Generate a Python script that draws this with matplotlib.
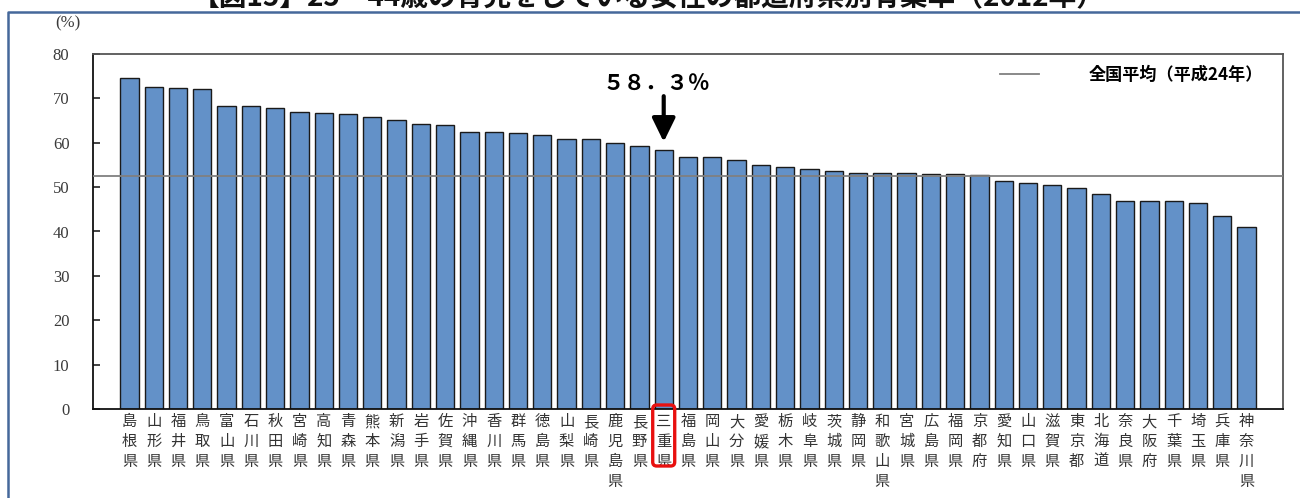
import matplotlib
matplotlib.use("Agg")
import matplotlib.pyplot as plt
from matplotlib.patches import FancyBboxPatch, ArrowStyle
from matplotlib.lines import Line2D
from matplotlib.transforms import IdentityTransform

plt.rcParams['font.family'] = ['Noto Sans CJK JP', 'DejaVu Sans']

# 都道府県別有業率（25～44歳・育児をしている女性、2012年）
prefectures = [
    "島根県", "山形県", "福井県", "鳥取県", "富山県", "石川県", "秋田県", "宮崎県",
    "高知県", "青森県", "熊本県", "新潟県", "岩手県", "佐賀県", "沖縄県", "香川県",
    "群馬県", "徳島県", "山梨県", "長崎県", "鹿児島県", "長野県", "三重県", "福島県",
    "岡山県", "大分県", "愛媛県", "栃木県", "岐阜県", "茨城県", "静岡県", "和歌山県",
    "宮城県", "広島県", "福岡県", "京都府", "愛知県", "山口県", "滋賀県", "東京都",
    "北海道", "奈良県", "大阪府", "千葉県", "埼玉県", "兵庫県", "神奈川県",
]
rates = [
    74.7, 72.6, 72.3, 72.0, 68.2, 68.2, 67.8, 66.9,
    66.7, 66.4, 65.7, 65.1, 64.2, 63.9, 62.4, 62.4,
    62.1, 61.7, 60.8, 60.8, 59.9, 59.3, 58.3, 56.7,
    56.7, 56.1, 54.9, 54.6, 54.1, 53.7, 53.1, 53.1,
    53.1, 53.0, 53.0, 52.7, 51.3, 50.9, 50.4, 49.9,
    48.4, 46.8, 46.8, 46.8, 46.5, 43.5, 41.0,
]
national_avg = 52.6
highlight = "三重県"
yticks = [0, 10, 20, 30, 40, 50, 60, 70, 80]

W, H = 1300, 498
fig = plt.figure(figsize=(W / 100, H / 100), dpi=100)
fig.patch.set_facecolor("white")

# outer frame of the figure panel
fig.add_artist(Line2D([8, 8, W], [0, H - 12, H - 12], transform=IdentityTransform(),
                      color="#45689b", lw=1.8))

# title (runs past the top edge)
fig.text(648 / W, 1 - 6 / H,
         "【図15】25～44歳の育児をしている女性の都道府県別有業率（2012年）",
         ha="center", va="baseline", fontsize=20, fontweight="bold", color="#111111")

ax = fig.add_axes([93 / W, 1 - 409 / H, 1190 / W, 355 / H])
x = list(range(len(prefectures)))
ax.bar(x, rates, width=0.75, color="#6391c8", edgecolor="#1a1a1a", linewidth=1.0, zorder=2)
avg_line = ax.axhline(national_avg, color="#808080", lw=1.3, zorder=3,
                      label="全国平均（平成24年）")

ax.set_xlim(-1.5, len(prefectures) + 0.5)
ax.set_ylim(0, 80)
ax.set_yticks(yticks)
ax.set_yticklabels([str(v) for v in yticks], family=["Liberation Serif"], fontsize=12,
                   color="#3a3a3a")
ax.tick_params(axis="y", direction="in", length=5, width=1.2, pad=17, color="#222222")

ax.set_xticks(x)
ax.set_xticklabels(["\n".join(p) for p in prefectures], fontsize=11, linespacing=1.22,
                   va="top", color="#333333")
ax.tick_params(axis="x", length=0, pad=3)

for side in ["left", "bottom"]:
    ax.spines[side].set_color("#111111")
    ax.spines[side].set_linewidth(1.3)
for side in ["top", "right"]:
    ax.spines[side].set_color("#555555")
    ax.spines[side].set_linewidth(1.3)

fig.text(68 / W, 1 - 23 / H, "(%)", ha="center", va="center", family=["Liberation Serif"],
         fontsize=12, color="#3a3a3a")

leg = ax.legend(handles=[avg_line], loc="center right", bbox_to_anchor=(0.996, 0.94),
                frameon=False, handlelength=2.3, handletextpad=2.9,
                prop={"size": 12.3, "weight": "bold"})

# highlighted prefecture: value callout and red box around its label
hi = prefectures.index(highlight)
hv = rates[hi]
ax.annotate("", xy=(hi, hv + 1.9), xytext=(hi, hv + 12.2),
            arrowprops=dict(arrowstyle=ArrowStyle("-|>", head_length=0.45, head_width=0.22),
                            mutation_scale=32, lw=3, color="black", shrinkA=0, shrinkB=0),
            zorder=5)
ax.text(hi - 0.3, hv + 14.9, f"{hv:.1f}%".translate(str.maketrans("0123456789.%", "０１２３４５６７８９．％")),
        ha="center", va="center", fontsize=15.5, fontweight="bold", color="black")

xc = ax.transData.transform((hi, 0))[0]
box = FancyBboxPatch((xc - 11, H - 466), 22, 61,
                     boxstyle="round,pad=0,rounding_size=4",
                     transform=IdentityTransform(), fill=False,
                     edgecolor="#e8100f", lw=2.4, zorder=10)
fig.add_artist(box)

fig.savefig("out.png", dpi=100)
